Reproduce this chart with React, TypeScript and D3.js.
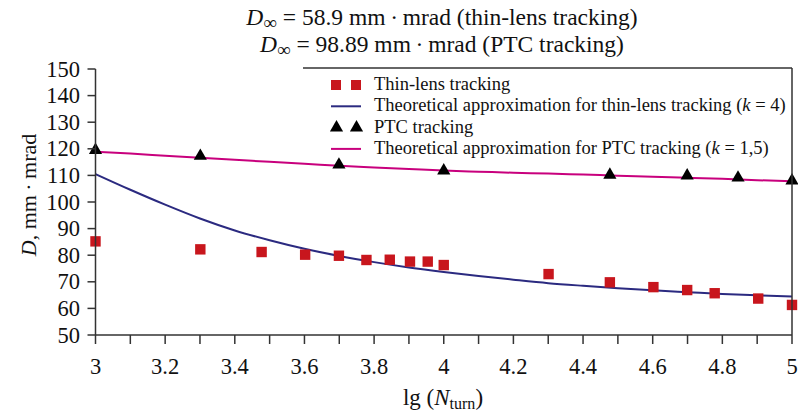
import React, { useEffect, useRef } from 'react';
import * as d3 from 'd3';

const width = 798;
const height = 414;
const margin = { left: 95.5, right: 6, top: 69, bottom: 79 };

// thin-lens tracking points
const thinLensX = [3, 3.301, 3.477, 3.602, 3.699, 3.778, 3.845, 3.903, 3.954, 4, 4.301, 4.477, 4.602, 4.699, 4.778, 4.903, 5];
const thinLensD = [85.2, 82.2, 81.2, 80.2, 79.8, 78.2, 78.3, 77.6, 77.6, 76.3, 72.9, 69.8, 68.0, 66.9, 65.7, 63.7, 61.3];

// PTC tracking points
const ptcX = [3, 3.301, 3.699, 4, 4.477, 4.699, 4.845, 5];
const ptcD = [119.5, 117.3, 114.0, 111.8, 110.2, 109.9, 109.1, 108.0];

// theoretical curves
const theoryX = [3, 3.1, 3.2, 3.3, 3.4, 3.5, 3.6, 3.7, 3.8, 3.9, 4, 4.1, 4.2, 4.3, 4.4, 4.5, 4.6, 4.7, 4.8, 4.9, 5];
const thinTheoryD = [110.5, 104.6, 99.0, 93.8, 89.3, 85.6, 82.4, 79.7, 77.4, 75.4, 73.7, 72.2, 70.8, 69.5, 68.5, 67.6, 66.8, 66.1, 65.4, 64.9, 64.5];
const ptcTheoryD = [118.9, 118.2, 117.4, 116.6, 115.9, 115.1, 114.4, 113.6, 113.0, 112.4, 111.8, 111.4, 111.0, 110.7, 110.3, 109.9, 109.5, 109.1, 108.7, 108.2, 107.8];

const xTicks = [3, 3.1, 3.2, 3.3, 3.4, 3.5, 3.6, 3.7, 3.8, 3.9, 4, 4.1, 4.2, 4.3, 4.4, 4.5, 4.6, 4.7, 4.8, 4.9, 5];
const xLabels = ['3', '3.2', '3.4', '3.6', '3.8', '4', '4.2', '4.4', '4.6', '4.8', '5'];
const yTicks = [50, 60, 70, 80, 90, 100, 110, 120, 130, 140, 150];

const red = '#c8161d';
const navy = '#2b2a80';
const magenta = '#c8007d';
const axisColor = '#333';
const serif = { fontFamily: '"Liberation Serif", serif' };
const dot = '\u2009·\u2009';

const App = () => {
  const ref = useRef<SVGSVGElement>(null);

  // force the serif face on every label
  useEffect(() => {
    if (!ref.current) return;
    d3.select(ref.current).selectAll<SVGTextElement, unknown>('text, tspan').each(function () {
      this.setAttribute('font-family', 'Liberation Serif');
      this.style.setProperty('font-family', '"Liberation Serif", serif', 'important');
    });
  }, []);

  const x = d3.scaleLinear().domain([3, 5]).range([margin.left, width - margin.right]);
  const y = d3.scaleLinear().domain([50, 150]).range([height - margin.bottom, margin.top]);

  const line = d3.line<number>()
    .x((d, i) => x(theoryX[i]))
    .y(d => y(d))
    .curve(d3.curveMonotoneX);

  const tri = d3.symbol().type(d3.symbolTriangle).size(75);
  const bottom = y(50);

  // legend
  const lgX = 303;
  const lgY = 68;
  const rowH = 21.3;

  return (
    <svg ref={ref} width={width} height={height} style={{ position: 'absolute', left: 0, top: 0 }}>
      <style>{`#root svg text, #root svg tspan { font-family: "Liberation Serif", serif !important; }`}</style>
      <rect width={width} height={height} fill="#fff" />

      {/* title */}
      <text x={442} y={25} textAnchor="middle" fontSize={23.5} fill="#111" style={serif}>
        <tspan fontStyle="italic">D</tspan>
        <tspan fontSize={19} dy={4}>∞</tspan>
        <tspan dy={-4}> = 58.9 mm{dot}mrad (thin-lens tracking)</tspan>
      </text>
      <text x={442} y={52} textAnchor="middle" fontSize={23.5} fill="#111" style={serif}>
        <tspan fontStyle="italic">D</tspan>
        <tspan fontSize={19} dy={4}>∞</tspan>
        <tspan dy={-4}> = 98.89 mm{dot}mrad (PTC tracking)</tspan>
      </text>

      {/* theory curves */}
      <path d={line(thinTheoryD) || ''} fill="none" stroke={navy} strokeWidth={2} />
      <path d={line(ptcTheoryD) || ''} fill="none" stroke={magenta} strokeWidth={2} />

      {/* points */}
      {thinLensD.map((d, i) => (
        <rect key={'s' + i} x={x(thinLensX[i]) - 5.2} y={y(d) - 5.2} width={10.4} height={10.4} fill={red} />
      ))}
      {ptcD.map((d, i) => (
        <path key={'t' + i} d={tri() || ''} transform={`translate(${x(ptcX[i])},${y(d)})`} fill="#000" />
      ))}

      {/* axes */}
      <line x1={x(3)} x2={x(5)} y1={bottom} y2={bottom} stroke={axisColor} strokeWidth={1.5} />
      <line x1={x(3)} x2={x(3)} y1={y(150)} y2={bottom} stroke={axisColor} strokeWidth={1.5} />
      <line x1={x(5)} x2={x(5)} y1={lgY} y2={bottom} stroke={axisColor} strokeWidth={1.5} />
      {xTicks.map(t => (
        <line key={'xt' + t} x1={x(t)} x2={x(t)} y1={bottom} y2={bottom + 9} stroke={axisColor} strokeWidth={1.5} />
      ))}
      {xLabels.map(l => (
        <text key={'xl' + l} x={x(+l)} y={374} textAnchor="middle" fontSize={22.5} fill="#111" style={serif}>{l}</text>
      ))}
      {yTicks.map(t => (
        <g key={'yt' + t}>
          <line x1={x(3) - 8} x2={x(3)} y1={y(t)} y2={y(t)} stroke={axisColor} strokeWidth={1.5} />
          <text x={80} y={y(t) + 7.5} textAnchor="end" fontSize={22.5} fill="#111" style={serif}>{t}</text>
        </g>
      ))}

      {/* axis titles */}
      <text transform="translate(36,195) rotate(-90)" textAnchor="middle" fontSize={22} fill="#111" style={serif}>
        <tspan fontStyle="italic">D</tspan>
        <tspan>, mm{dot}mrad</tspan>
      </text>
      <text x={443} y={405} textAnchor="middle" fontSize={23} fill="#111" style={serif}>
        <tspan>lg (</tspan>
        <tspan fontStyle="italic">N</tspan>
        <tspan fontSize={16} dy={4}>turn</tspan>
        <tspan dy={-4}>)</tspan>
      </text>

      {/* legend */}
      <g>
        <line x1={lgX} x2={x(5)} y1={lgY} y2={lgY} stroke={axisColor} strokeWidth={1.5} />
        <rect x={331} y={lgY + 17 - 5} width={10} height={10} fill={red} />
        <rect x={351} y={lgY + 17 - 5} width={10} height={10} fill={red} />
        <line x1={331} x2={361} y1={lgY + 17 + rowH} y2={lgY + 17 + rowH} stroke={navy} strokeWidth={2} />
        <path d={tri() || ''} transform={`translate(336.5,${lgY + 17 + rowH * 2})`} fill="#000" />
        <path d={tri() || ''} transform={`translate(356.5,${lgY + 17 + rowH * 2})`} fill="#000" />
        <line x1={331} x2={361} y1={lgY + 17 + rowH * 3} y2={lgY + 17 + rowH * 3} stroke={magenta} strokeWidth={2} />
        <g fontSize={18.5} fill="#111">
          <text x={374} y={lgY + 22} style={serif}>Thin-lens tracking</text>
          <text x={374} y={lgY + 22 + rowH} style={serif}>
            Theoretical approximation for thin-lens tracking (<tspan fontStyle="italic">k</tspan> = 4)
          </text>
          <text x={374} y={lgY + 22 + rowH * 2} style={serif}>PTC tracking</text>
          <text x={374} y={lgY + 22 + rowH * 3} style={serif}>
            Theoretical approximation for PTC tracking (<tspan fontStyle="italic">k</tspan> = 1,5)
          </text>
        </g>
      </g>
    </svg>
  );
};

export default App;
